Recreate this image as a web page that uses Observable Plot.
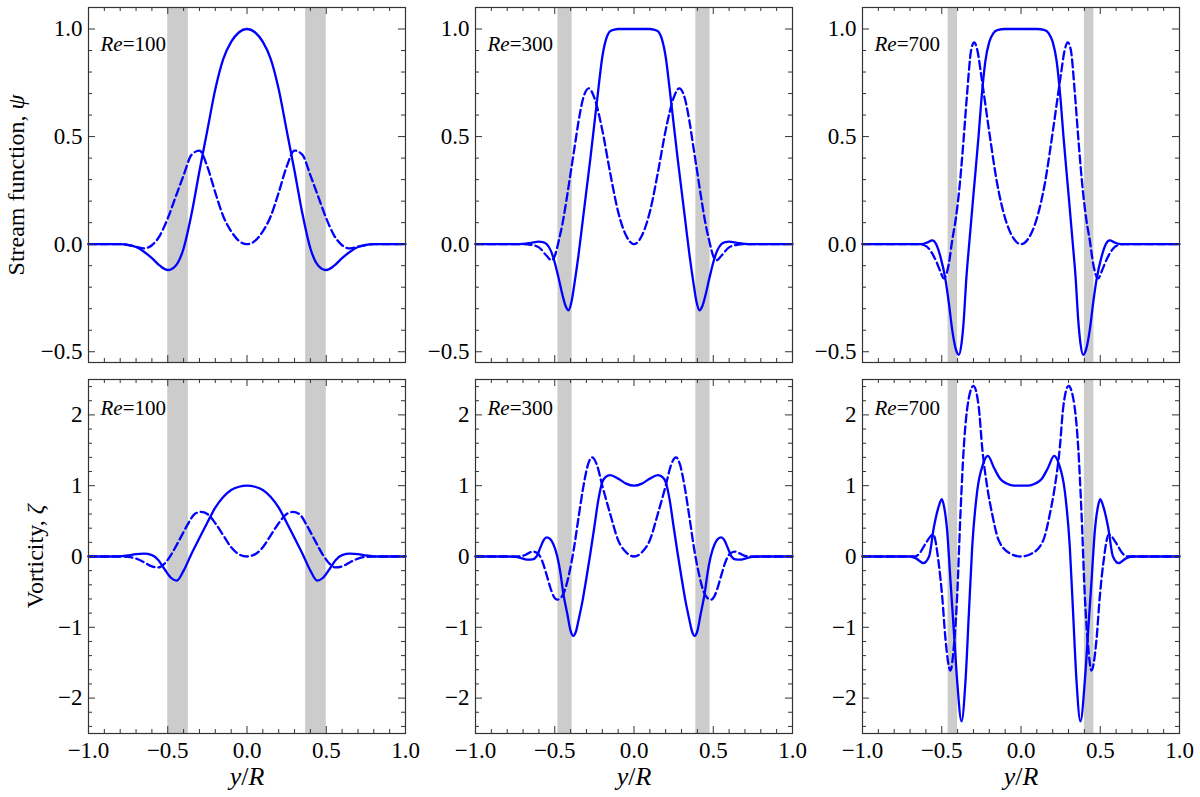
<!DOCTYPE html>
<html><head><meta charset="utf-8">
<script src="https://cdn.jsdelivr.net/npm/d3@7"></script>
<script src="https://cdn.jsdelivr.net/npm/@observablehq/plot@0.6"></script>
<style>
body{margin:0;background:#fff;}
#wrap{position:relative;width:1200px;height:797px;overflow:hidden;background:#fff;font-family:'Liberation Serif',serif;}
#wrap svg text{font-family:'Liberation Serif',serif !important;font-variant:normal !important;}
</style></head><body><div id="wrap"></div>
<script>
// ---------- data ----------
const reNumbers = [100, 300, 700];
const rowLabels = ["Stream function, ψ", "Vorticity, ζ"];
const xLabel = "y/R";

const xMajorTicks = [-1, -0.5, 0, 0.5, 1];
const xMinorTicks = [-0.9,-0.8,-0.7,-0.6,-0.4,-0.3,-0.2,-0.1,0.1,0.2,0.3,0.4,0.6,0.7,0.8,0.9];
const psiMajorTicks = [-0.5, 0, 0.5, 1];
const psiMinorTicks = [-0.4,-0.3,-0.2,-0.1,0.1,0.2,0.3,0.4,0.6,0.7,0.8,0.9];
const vortMajorTicks = [-2, -1, 0, 1, 2];
const vortMinorTicks = [-2.4,-2.2,-1.8,-1.6,-1.4,-1.2,-0.8,-0.6,-0.4,-0.2,0.2,0.4,0.6,0.8,1.2,1.4,1.6,1.8,2.2,2.4];
const psiDomain = [-0.55, 1.1];
const vortDomain = [-2.5, 2.5];

const bands100 = [[-0.5, -0.37], [0.37, 0.5]];
const bands300 = [[-0.48, -0.39], [0.39, 0.48]];
const bands700 = [[-0.46, -0.40], [0.40, 0.46]];

const psi100Solid = [[-1,0],[-0.8,0],[-0.75,-0.003],[-0.7,-0.013],[-0.65,-0.035],[-0.6,-0.065],[-0.55,-0.1],[-0.5,-0.12],[-0.45,-0.1],[-0.4,-0.02],[-0.35,0.14],[-0.3,0.34],[-0.25,0.53],[-0.2,0.72],[-0.15,0.86],[-0.1,0.94],[-0.05,0.985],[0,1],[0.05,0.985],[0.1,0.94],[0.15,0.86],[0.2,0.72],[0.25,0.53],[0.3,0.34],[0.35,0.14],[0.4,-0.02],[0.45,-0.1],[0.5,-0.12],[0.55,-0.1],[0.6,-0.065],[0.65,-0.035],[0.7,-0.013],[0.75,-0.003],[0.8,0],[1,0]];
const psi100Dashed = [[-1,0],[-0.8,0],[-0.75,-0.004],[-0.7,-0.012],[-0.65,-0.02],[-0.6,-0.005],[-0.55,0.04],[-0.5,0.12],[-0.45,0.22],[-0.4,0.32],[-0.35,0.415],[-0.3,0.435],[-0.25,0.36],[-0.2,0.24],[-0.15,0.13],[-0.1,0.06],[-0.05,0.015],[0,0],[0.05,0.015],[0.1,0.06],[0.15,0.13],[0.2,0.24],[0.25,0.36],[0.3,0.435],[0.35,0.415],[0.4,0.32],[0.45,0.22],[0.5,0.12],[0.55,0.04],[0.6,-0.005],[0.65,-0.02],[0.7,-0.012],[0.75,-0.004],[0.8,0],[1,0]];

const psi300Solid = [[-1,0],[-0.75,0],[-0.7,0.001],[-0.65,0.006],[-0.6,0.012],[-0.575,0.01],[-0.55,0],[-0.525,-0.03],[-0.5,-0.085],[-0.475,-0.16],[-0.45,-0.24],[-0.43,-0.29],[-0.413,-0.308],[-0.395,-0.27],[-0.375,-0.18],[-0.35,-0.05],[-0.325,0.1],[-0.3,0.25],[-0.275,0.4],[-0.25,0.56],[-0.225,0.72],[-0.2,0.87],[-0.175,0.955],[-0.15,0.99],[-0.125,0.997],[-0.1,1],[0,1],[0.1,1],[0.125,0.997],[0.15,0.99],[0.175,0.955],[0.2,0.87],[0.225,0.72],[0.25,0.56],[0.275,0.4],[0.3,0.25],[0.325,0.1],[0.35,-0.05],[0.375,-0.18],[0.395,-0.27],[0.413,-0.308],[0.43,-0.29],[0.45,-0.24],[0.475,-0.16],[0.5,-0.085],[0.525,-0.03],[0.55,0],[0.575,0.01],[0.6,0.012],[0.65,0.006],[0.7,0.001],[0.75,0],[1,0]];
const psi300Dashed = [[-1,0],[-0.7,0],[-0.65,-0.003],[-0.6,-0.015],[-0.55,-0.055],[-0.52,-0.075],[-0.5,-0.055],[-0.475,0.015],[-0.45,0.1],[-0.425,0.21],[-0.4,0.33],[-0.375,0.45],[-0.35,0.57],[-0.32,0.68],[-0.285,0.724],[-0.25,0.68],[-0.2,0.53],[-0.15,0.33],[-0.1,0.15],[-0.05,0.04],[0,0],[0.05,0.04],[0.1,0.15],[0.15,0.33],[0.2,0.53],[0.25,0.68],[0.285,0.724],[0.32,0.68],[0.35,0.57],[0.375,0.45],[0.4,0.33],[0.425,0.21],[0.45,0.1],[0.475,0.015],[0.5,-0.055],[0.52,-0.075],[0.55,-0.055],[0.6,-0.015],[0.65,-0.003],[0.7,0],[1,0]];

const psi700Solid = [[-1,0],[-0.63,0],[-0.59,0.008],[-0.56,0.018],[-0.535,0],[-0.508,-0.059],[-0.476,-0.167],[-0.455,-0.275],[-0.434,-0.398],[-0.413,-0.483],[-0.392,-0.514],[-0.375,-0.46],[-0.361,-0.352],[-0.345,-0.16],[-0.327,0],[-0.3,0.23],[-0.268,0.5],[-0.25,0.67],[-0.225,0.85],[-0.2,0.94],[-0.175,0.98],[-0.15,0.995],[-0.1,1],[0,1],[0.1,1],[0.15,0.995],[0.175,0.98],[0.2,0.94],[0.225,0.85],[0.25,0.67],[0.268,0.5],[0.3,0.23],[0.327,0],[0.345,-0.16],[0.361,-0.352],[0.375,-0.46],[0.392,-0.514],[0.413,-0.483],[0.434,-0.398],[0.455,-0.275],[0.476,-0.167],[0.508,-0.059],[0.535,0],[0.56,0.018],[0.59,0.008],[0.63,0],[1,0]];
const psi700Dashed = [[-1,0],[-0.65,0],[-0.61,-0.005],[-0.582,-0.02],[-0.555,-0.05],[-0.529,-0.09],[-0.51,-0.125],[-0.487,-0.159],[-0.455,-0.09],[-0.434,0.018],[-0.413,0.11],[-0.39,0.25],[-0.365,0.46],[-0.34,0.7],[-0.315,0.9],[-0.295,0.938],[-0.275,0.9],[-0.25,0.78],[-0.2,0.52],[-0.15,0.28],[-0.1,0.12],[-0.05,0.03],[0,0],[0.05,0.03],[0.1,0.12],[0.15,0.28],[0.2,0.52],[0.25,0.78],[0.275,0.9],[0.295,0.938],[0.315,0.9],[0.34,0.7],[0.365,0.46],[0.39,0.25],[0.413,0.11],[0.434,0.018],[0.455,-0.09],[0.487,-0.159],[0.51,-0.125],[0.529,-0.09],[0.555,-0.05],[0.582,-0.02],[0.61,-0.005],[0.65,0],[1,0]];

const vort100Solid = [[-1,0],[-0.85,0],[-0.8,0.003],[-0.75,0.015],[-0.7,0.035],[-0.65,0.04],[-0.6,0.02],[-0.56,-0.05],[-0.52,-0.18],[-0.48,-0.3],[-0.443,-0.34],[-0.4,-0.2],[-0.35,0.04],[-0.3,0.26],[-0.25,0.48],[-0.2,0.69],[-0.15,0.84],[-0.1,0.94],[-0.05,0.985],[0,1],[0.05,0.985],[0.1,0.94],[0.15,0.84],[0.2,0.69],[0.25,0.48],[0.3,0.26],[0.35,0.04],[0.4,-0.2],[0.443,-0.34],[0.48,-0.3],[0.52,-0.18],[0.56,-0.05],[0.6,0.02],[0.65,0.04],[0.7,0.035],[0.75,0.015],[0.8,0.003],[0.85,0],[1,0]];
const vort100Dashed = [[-1,0],[-0.8,0],[-0.75,-0.005],[-0.7,-0.03],[-0.65,-0.08],[-0.6,-0.14],[-0.56,-0.155],[-0.52,-0.1],[-0.48,0.02],[-0.43,0.22],[-0.38,0.43],[-0.33,0.6],[-0.29,0.63],[-0.25,0.6],[-0.2,0.47],[-0.15,0.3],[-0.1,0.13],[-0.05,0.03],[0,0],[0.05,0.03],[0.1,0.13],[0.15,0.3],[0.2,0.47],[0.25,0.6],[0.29,0.63],[0.33,0.6],[0.38,0.43],[0.43,0.22],[0.48,0.02],[0.52,-0.1],[0.56,-0.155],[0.6,-0.14],[0.65,-0.08],[0.7,-0.03],[0.75,-0.005],[0.8,0],[1,0]];

const vort300Solid = [[-1,0],[-0.8,0],[-0.75,-0.005],[-0.7,-0.03],[-0.67,-0.045],[-0.64,-0.04],[-0.615,0],[-0.59,0.13],[-0.57,0.23],[-0.55,0.27],[-0.53,0.25],[-0.51,0.18],[-0.484,0],[-0.465,-0.22],[-0.446,-0.52],[-0.42,-0.82],[-0.4,-1.05],[-0.383,-1.12],[-0.365,-1.05],[-0.35,-0.9],[-0.325,-0.63],[-0.3,-0.3],[-0.275,0.05],[-0.25,0.42],[-0.225,0.8],[-0.2,1.05],[-0.18,1.12],[-0.15,1.15],[-0.1,1.1],[-0.05,1.03],[0,1],[0.05,1.03],[0.1,1.1],[0.15,1.15],[0.18,1.12],[0.2,1.05],[0.225,0.8],[0.25,0.42],[0.275,0.05],[0.3,-0.3],[0.325,-0.63],[0.35,-0.9],[0.365,-1.05],[0.383,-1.12],[0.4,-1.05],[0.42,-0.82],[0.446,-0.52],[0.465,-0.22],[0.484,0],[0.51,0.18],[0.53,0.25],[0.55,0.27],[0.57,0.23],[0.59,0.13],[0.615,0],[0.64,-0.04],[0.67,-0.045],[0.7,-0.03],[0.75,-0.005],[0.8,0],[1,0]];
const vort300Dashed = [[-1,0],[-0.75,0],[-0.7,0.01],[-0.67,0.04],[-0.64,0.07],[-0.61,0.05],[-0.58,-0.06],[-0.55,-0.27],[-0.525,-0.46],[-0.505,-0.57],[-0.485,-0.61],[-0.465,-0.59],[-0.44,-0.5],[-0.41,-0.25],[-0.38,0.1],[-0.35,0.55],[-0.32,0.98],[-0.29,1.3],[-0.265,1.4],[-0.235,1.3],[-0.2,1.0],[-0.15,0.6],[-0.1,0.23],[-0.05,0.06],[0,0],[0.05,0.06],[0.1,0.23],[0.15,0.6],[0.2,1.0],[0.235,1.3],[0.265,1.4],[0.29,1.3],[0.32,0.98],[0.35,0.55],[0.38,0.1],[0.41,-0.25],[0.44,-0.5],[0.465,-0.59],[0.485,-0.61],[0.505,-0.57],[0.525,-0.46],[0.55,-0.27],[0.58,-0.06],[0.61,0.05],[0.64,0.07],[0.67,0.04],[0.7,0.01],[0.75,0],[1,0]];

const vort700Solid = [[-1,0],[-0.7,0],[-0.66,-0.03],[-0.617,-0.094],[-0.58,0],[-0.55,0.41],[-0.52,0.7],[-0.5,0.81],[-0.485,0.7],[-0.466,0.366],[-0.445,-0.34],[-0.424,-1.04],[-0.403,-1.75],[-0.375,-2.33],[-0.35,-1.75],[-0.329,-0.81],[-0.308,0.13],[-0.276,0.93],[-0.24,1.3],[-0.209,1.42],[-0.17,1.25],[-0.129,1.09],[-0.09,1.03],[-0.045,1],[0,1],[0.045,1],[0.09,1.03],[0.129,1.09],[0.17,1.25],[0.209,1.42],[0.24,1.3],[0.276,0.93],[0.308,0.13],[0.329,-0.81],[0.35,-1.75],[0.375,-2.33],[0.403,-1.75],[0.424,-1.04],[0.445,-0.34],[0.466,0.366],[0.485,0.7],[0.5,0.81],[0.52,0.7],[0.55,0.41],[0.58,0],[0.617,-0.094],[0.66,-0.03],[0.7,0],[1,0]];
const vort700Dashed = [[-1,0],[-0.67,0],[-0.635,0.06],[-0.603,0.18],[-0.554,0.31],[-0.519,-0.1],[-0.497,-0.57],[-0.476,-1.18],[-0.445,-1.61],[-0.424,-1.28],[-0.403,-0.57],[-0.382,0.6],[-0.361,1.54],[-0.329,2.24],[-0.3,2.41],[-0.266,2.1],[-0.245,1.54],[-0.213,0.98],[-0.182,0.6],[-0.14,0.225],[-0.066,0.04],[0,0],[0.066,0.04],[0.14,0.225],[0.182,0.6],[0.213,0.98],[0.245,1.54],[0.266,2.1],[0.3,2.41],[0.329,2.24],[0.361,1.54],[0.382,0.6],[0.403,-0.57],[0.424,-1.28],[0.445,-1.61],[0.476,-1.18],[0.497,-0.57],[0.519,-0.1],[0.554,0.31],[0.603,0.18],[0.635,0.06],[0.67,0],[1,0]];

// ---------- layout & drawing ----------
const curves = [
  [[psi100Solid, psi100Dashed], [psi300Solid, psi300Dashed], [psi700Solid, psi700Dashed]],
  [[vort100Solid, vort100Dashed], [vort300Solid, vort300Dashed], [vort700Solid, vort700Dashed]]
];
const bands = [bands100, bands300, bands700];

const W = 317, H = [355, 354];
const colLeft = [88, 475, 862], rowTop = [7, 379];
const ML = 88, MR = 10, MT = 7, MB = [6, 63];
const tickColor = "#333";
const blue = "#0000ff";
const serif = "Liberation Serif";
const fmt1 = d3.format(".1f"), fmt0 = d3.format("d");
const toPts = a => a.map(([x, y]) => ({x, y}));
const wrap = document.getElementById("wrap");

for (let r = 0; r < 2; r++) {
  for (let c = 0; c < 3; c++) {
    const ih = H[r];
    const yMaj = r === 0 ? psiMajorTicks : vortMajorTicks;
    const yMin = r === 0 ? psiMinorTicks : vortMinorTicks;
    const [solid, dashed] = curves[r][c];
    const marks = [
      Plot.rect(bands[c].map(([a, b]) => ({a, b})), {x1: "a", x2: "b", fill: "#cccccc"}),
      Plot.line(toPts(dashed), {x: "x", y: "y", stroke: blue, strokeWidth: 2.3, strokeDasharray: "8,4", curve: "monotone-x"}),
      Plot.line(toPts(solid), {x: "x", y: "y", stroke: blue, strokeWidth: 2.3, curve: "monotone-x"}),
      Plot.ruleX(xMajorTicks, {stroke: tickColor, insetTop: ih - 7}),
      Plot.ruleX(xMajorTicks, {stroke: tickColor, insetBottom: ih - 7}),
      Plot.ruleX(xMinorTicks, {stroke: tickColor, insetTop: ih - 4}),
      Plot.ruleX(xMinorTicks, {stroke: tickColor, insetBottom: ih - 4}),
      Plot.ruleY(yMaj, {stroke: tickColor, insetRight: W - 7}),
      Plot.ruleY(yMaj, {stroke: tickColor, insetLeft: W - 7}),
      Plot.ruleY(yMin, {stroke: tickColor, insetRight: W - 4}),
      Plot.ruleY(yMin, {stroke: tickColor, insetLeft: W - 4}),
      Plot.frame({stroke: tickColor, strokeWidth: 1.2}),
      Plot.axisY({ticks: yMaj, tickSize: 0, tickPadding: 6, tickFormat: r === 0 ? fmt1 : fmt0, label: null, fontSize: 23, fontFamily: serif, fill: "black"}),
      Plot.text(["Re=" + reNumbers[c]], {text: d => d, frameAnchor: "top-left", dx: 12, dy: r === 0 ? 37 : 29, textAnchor: "start", lineAnchor: "middle", fontSize: 21, fontFamily: serif, fill: "black"})
    ];
    if (c === 0) {
      marks.push(Plot.text([rowLabels[r]], {text: d => d, frameAnchor: "left", rotate: -90, dx: r === 0 ? -72 : -53, textAnchor: "middle", lineAnchor: "middle", fontSize: 24, fontFamily: serif, fill: "black"}));
    }
    if (r === 1) {
      marks.push(Plot.axisX({ticks: xMajorTicks, tickSize: 0, tickPadding: 8, tickFormat: fmt1, label: null, fontSize: 23, fontFamily: serif, fill: "black"}));
      marks.push(Plot.text([xLabel], {text: d => d, frameAnchor: "bottom", dy: 43, textAnchor: "middle", lineAnchor: "middle", fontSize: 26, fontFamily: serif, fill: "black"}));
    }
    const svg = Plot.plot({
      width: ML + W + MR,
      height: MT + ih + MB[r],
      marginLeft: ML, marginRight: MR, marginTop: MT, marginBottom: MB[r],
      x: {domain: [-1, 1], nice: false, ...(r === 0 ? {axis: null} : {})},
      y: {domain: r === 0 ? psiDomain : vortDomain, nice: false},
      marks
    });
    svg.style.position = "absolute";
    svg.style.left = (colLeft[c] - ML) + "px";
    svg.style.top = (rowTop[r] - MT) + "px";
    svg.style.background = "transparent";
    svg.style.overflow = "visible";
    svg.style.maxWidth = "none";
    svg.setAttribute("font-family", serif);
    // italic math pieces
    d3.select(svg).selectAll("text").each(function () {
      const t = this.textContent;
      const sel = d3.select(this);
      if (t.startsWith("Re=")) {
        sel.text(null);
        sel.append("tspan").attr("font-style", "italic").text("Re");
        sel.append("tspan").text(t.slice(2));
      } else if (t === xLabel) {
        sel.text(null);
        sel.append("tspan").attr("font-style", "italic").text("y");
        sel.append("tspan").text("/");
        sel.append("tspan").attr("font-style", "italic").text("R");
      } else if (rowLabels.includes(t)) {
        sel.text(null);
        sel.append("tspan").text(t.slice(0, -1));
        sel.append("tspan").attr("font-style", "italic").text(t.slice(-1));
      }
    });
    wrap.appendChild(svg);
  }
}
</script></body></html>
